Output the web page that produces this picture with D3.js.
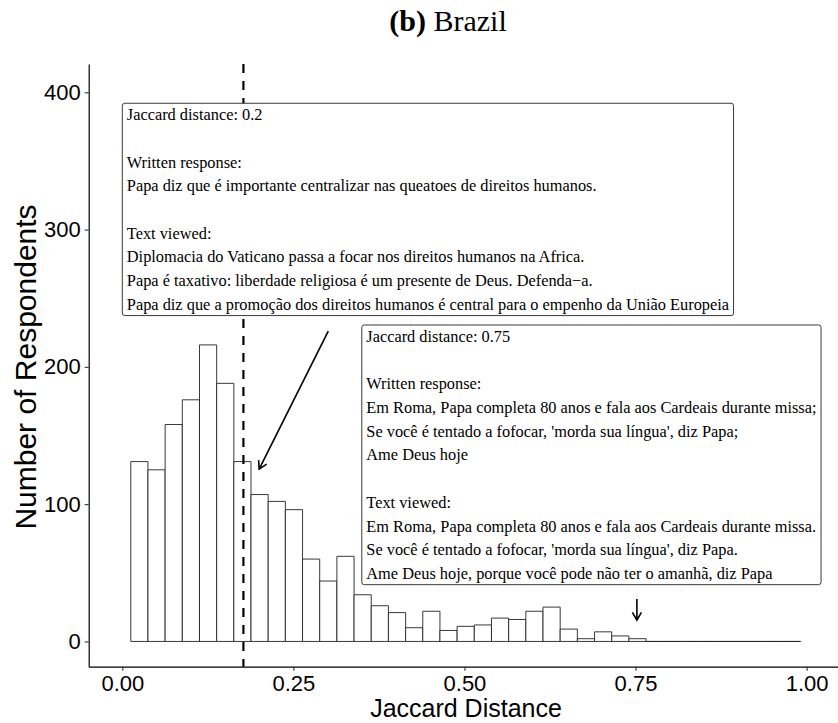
<!DOCTYPE html>
<html>
<head>
<meta charset="utf-8">
<script src="https://cdn.jsdelivr.net/npm/d3@7"></script>
<style>
  body { margin: 0; background: #fff; }
  .tick text { font-family: "Liberation Sans", Arial, sans-serif; font-size: 22px; fill: #000; }
  .note text { font-family: "Liberation Serif", "Times New Roman", serif; font-size: 16.35px; fill: #000; }
</style>
</head>
<body>
<svg id="chart" width="838" height="723"></svg>
<script>
// histogram of Jaccard distances (Brazil)
const binStart = 0.0124
const binWidth = 0.0251
const counts = [131, 125, 158, 176, 216, 188, 131, 107, 102, 96,
                60, 44, 62, 34, 26, 21, 10, 22, 8, 11,
                12, 17, 16, 22, 25, 9, 2, 7, 4, 2,
                0, 0, 0, 0, 0, 0, 0, 0, 0]
const meanDistance = 0.177
const xTicks = [0, 0.25, 0.5, 0.75, 1]
const yTicks = [0, 100, 200, 300, 400]

// annotation boxes: [x, y] of top-left corner in data units
const note1Pos = [0.0, 392]
const note1Lines = [
  "Jaccard distance: 0.2",
  "",
  "Written response:",
  "Papa diz que é importante centralizar nas queatoes de direitos humanos.",
  "",
  "Text viewed:",
  "Diplomacia do Vaticano passa a focar nos direitos humanos na Africa.",
  "Papa é taxativo: liberdade religiosa é um presente de Deus. Defenda−a.",
  "Papa diz que a promoção dos direitos humanos é central para o empenho da União Europeia"
]
const note2Pos = [0.35, 230.5]
const note2Lines = [
  "Jaccard distance: 0.75",
  "",
  "Written response:",
  "Em Roma, Papa completa 80 anos e fala aos Cardeais durante missa;",
  "Se você é tentado a fofocar, 'morda sua língua', diz Papa;",
  "Ame Deus hoje",
  "",
  "Text viewed:",
  "Em Roma, Papa completa 80 anos e fala aos Cardeais durante missa.",
  "Se você é tentado a fofocar, 'morda sua língua', diz Papa.",
  "Ame Deus hoje, porque você pode não ter o amanhã, diz Papa"
]
// arrows: [x1, y1, x2, y2] in data units
const arrows = [
  [0.301, 226, 0.200, 125.5],
  [0.752, 31, 0.752, 15.5]
]

const svg = d3.select("#chart")

// panel runs a bit past the right edge of the picture
const x = d3.scaleLinear().domain([-0.0491, 1.0532]).range([88.7, 843])
const y = d3.scaleLinear().domain([-18.4, 420.6]).range([666.7, 64])

// bars (paths so that empty bins still show as a flat line)
const bins = counts.map((c, i) => ({x0: binStart + i * binWidth, x1: binStart + (i + 1) * binWidth, count: c}))
svg.append("g").selectAll("path")
  .data(bins)
  .join("path")
  .attr("d", d => `M${x(d.x0)},${y(0)}V${y(d.count)}H${x(d.x1)}V${y(0)}Z`)
  .attr("fill", "white")
  .attr("stroke", "#222")
  .attr("stroke-width", 0.9)

// mean line
svg.append("line")
  .attr("x1", x(meanDistance)).attr("x2", x(meanDistance))
  .attr("y1", y.range()[1]).attr("y2", y.range()[0])
  .attr("stroke", "black")
  .attr("stroke-width", 2.2)
  .attr("stroke-dasharray", "9,8")

// arrows
for (let a of arrows) {
  let x1 = x(a[0]), y1 = y(a[1]), x2 = x(a[2]), y2 = y(a[3])
  let ang = Math.atan2(y2 - y1, x2 - x1)
  let len = 9, spread = Math.PI / 6
  let p1 = [x2 - len * Math.cos(ang - spread), y2 - len * Math.sin(ang - spread)]
  let p2 = [x2 - len * Math.cos(ang + spread), y2 - len * Math.sin(ang + spread)]
  svg.append("path")
    .attr("d", `M${x1},${y1}L${x2},${y2}M${p1[0]},${p1[1]}L${x2},${y2}L${p2[0]},${p2[1]}`)
    .attr("fill", "none")
    .attr("stroke", "black")
    .attr("stroke-width", 1.6)
}

// annotation labels
function drawNote(pos, lines) {
  let g = svg.append("g").attr("class", "note")
  let rect = g.append("rect")
  let left = x(pos[0]), top = y(pos[1])
  let lineH = 23.7
  let txt = g.selectAll("text")
    .data(lines)
    .join("text")
    .attr("x", left + 4.5)
    .attr("y", (d, i) => top + 11.5 + i * lineH)
    .attr("dominant-baseline", "central")
    .text(d => d)
  let maxW = d3.max(txt.nodes(), n => n.getComputedTextLength())
  rect.attr("x", left).attr("y", top)
    .attr("width", maxW + 9)
    .attr("height", lines.length * lineH - 1)
    .attr("rx", 2.5)
    .attr("fill", "white")
    .attr("stroke", "#222")
    .attr("stroke-width", 0.9)
}
drawNote(note1Pos, note1Lines)
drawNote(note2Pos, note2Lines)

// axes
const xAxis = svg.append("g")
  .attr("transform", `translate(0,${y.range()[0]})`)
  .call(d3.axisBottom(x).tickValues(xTicks).tickFormat(d3.format(".2f")).tickSize(4).tickSizeOuter(0).tickPadding(5))
const yAxis = svg.append("g")
  .attr("transform", `translate(${x.range()[0]},0)`)
  .call(d3.axisLeft(y).tickValues(yTicks).tickSize(4).tickSizeOuter(0).tickPadding(4))
for (let ax of [xAxis, yAxis]) {
  ax.select(".domain").attr("stroke", "black").attr("stroke-width", 1.2)
  ax.selectAll(".tick line").attr("stroke", "#333").attr("stroke-width", 1.1)
}

// axis titles
svg.append("text")
  .attr("x", 466).attr("y", 717)
  .attr("text-anchor", "middle")
  .style("font-family", "Liberation Sans, Arial, sans-serif")
  .style("font-size", "25px")
  .text("Jaccard Distance")
svg.append("text")
  .attr("transform", "translate(36,367) rotate(-90)")
  .attr("text-anchor", "middle")
  .style("font-family", "Liberation Sans, Arial, sans-serif")
  .style("font-size", "30px")
  .text("Number of Respondents")

// title
let title = svg.append("text")
  .attr("x", 448).attr("y", 31)
  .attr("text-anchor", "middle")
  .style("font-family", "Liberation Serif, Times New Roman, serif")
  .style("font-size", "30px")
title.append("tspan").attr("font-weight", "bold").text("(b)")
title.append("tspan").text(" Brazil")
</script>
</body>
</html>
